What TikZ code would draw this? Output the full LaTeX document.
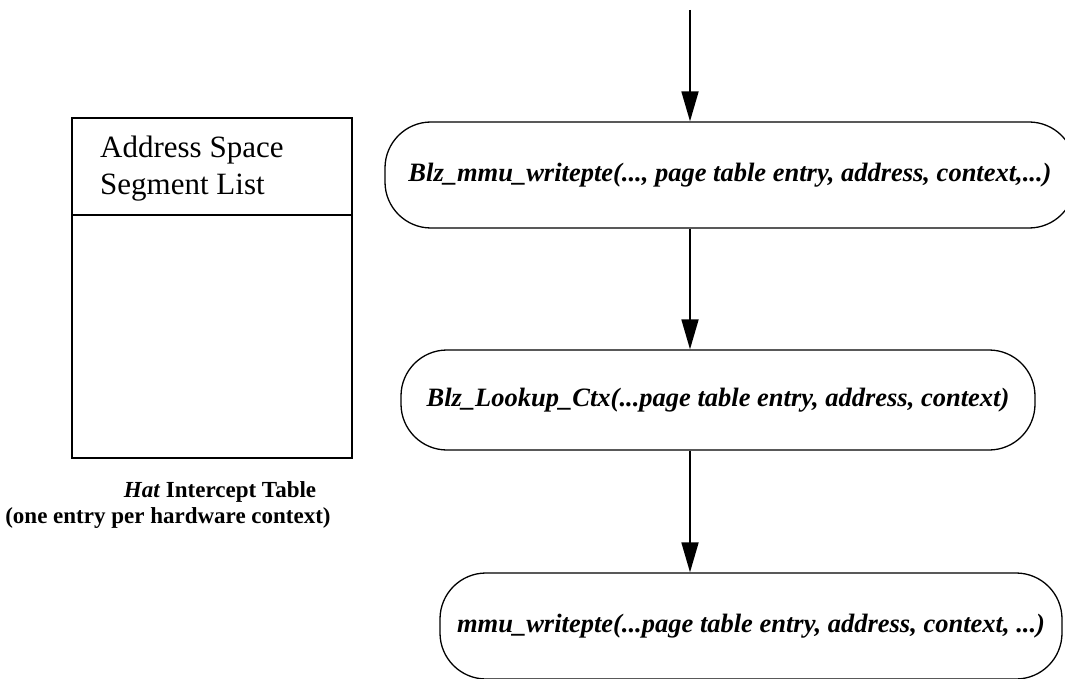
\documentclass[tikz,border=0pt]{standalone}
\usepackage{fontspec}
\setmainfont{Liberation Serif}
\usetikzlibrary{arrows.meta,positioning,calc}

\begin{document}
\begin{tikzpicture}[
    x=1pt, y=-1pt,
    call/.style={rectangle, draw=black, rounded corners=46pt,
                 minimum height=106pt, align=center, inner sep=0pt,
                 font=\fontsize{26.5}{31}\selectfont\bfseries\itshape, line width=1.3pt},
    tablebox/.style={rectangle, draw=black, minimum width=280pt,
                     minimum height=340pt, line width=1.5pt, inner sep=0pt},
    arrow/.style={-{Triangle[length=30pt,width=17pt]}, line width=1.8pt}
]
    \useasboundingbox (0,0) rectangle (1065,679);

    % Call chain
    \coordinate (entry) at (690,10);
    \node[call, minimum width=690pt] (writepte) at (730,175)
        {Blz\_mmu\_writepte(..., page table entry, address, context,...)};
    \node[call, minimum width=634pt, minimum height=100pt] (lookup) at (718,400)
        {Blz\_Lookup\_Ctx(...page table entry, address, context)};
    \node[call, minimum width=622pt] (mmu) at (751,626)
        {mmu\_writepte(...page table entry, address, context, ...)};

    \draw[arrow] (entry) -- (writepte.north -| entry);
    \draw[arrow] (writepte.south -| entry) -- (lookup.north -| entry);
    \draw[arrow] (lookup.south -| entry) -- (mmu.north -| entry);

    % Hat intercept table
    \node[tablebox] (hat) at (212,288) {};
    \coordinate (split) at (0,215);
    \draw[line width=1.5pt] (hat.west |- split) -- (hat.east |- split);
    \node[anchor=north west, align=left, inner sep=0pt,
          font=\fontsize{31}{37}\selectfont] (seglist) at (100,136)
        {Address Space\\Segment List};
    \node[font=\fontsize{23}{26}\selectfont\bfseries, inner sep=0pt] (caption) at (220,492)
        {\textit{Hat} Intercept Table};
    \node[font=\fontsize{23}{26}\selectfont\bfseries, inner sep=0pt] (captionsub) at (168,518)
        {(one entry per hardware context)};
\end{tikzpicture}
\end{document}
